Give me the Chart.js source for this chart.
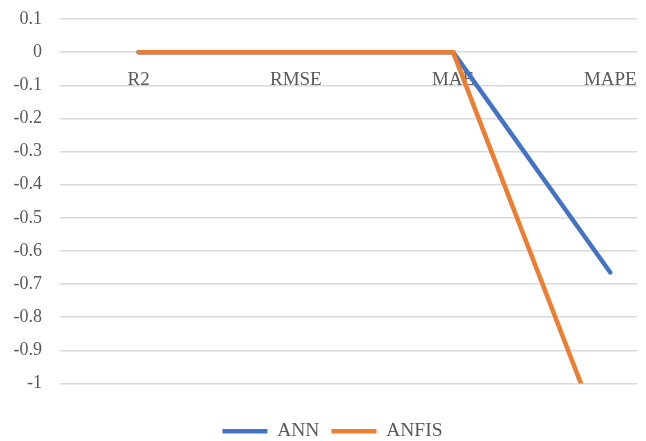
<!DOCTYPE html>
<html>
<head>
<meta charset="utf-8">
<script src="https://cdn.jsdelivr.net/npm/chart.js@4"></script>
<style>
  html, body { margin: 0; padding: 0; background: #fff; }
  #wrap { width: 646px; height: 441px; }
</style>
</head>
<body>
<div id="wrap"><canvas id="myChart" width="646" height="441"></canvas></div>
<script>
// metrics on the category axis
const categories = ['R2', 'RMSE', 'MAE', 'MAPE'];
// series values
const annValues = [0, 0, 0, -0.665];
const anfisValues = [0, 0, 0, -1.23];
// y tick range
const yMin = -1;
const yMax = 0.1;
const yStep = 0.1;

const toPoints = values => values.map((v, i) => ({ x: i, y: v }));
const serif = 'Liberation Serif';

// legend in the original sits a little right of centre
const legendShift = {
    id: 'legendShift',
    afterLayout(chart) {
        chart.legend.left += 28;
    }
};

const ctx = document.getElementById('myChart').getContext('2d');
new Chart(ctx, {
    type: 'line',
    data: {
        datasets: [{
            label: 'ANN',
            data: toPoints(annValues),
            borderColor: '#4472C4',
            backgroundColor: '#4472C4',
            borderWidth: 4.5,
            borderCapStyle: 'round',
            borderJoinStyle: 'round',
            pointRadius: 0,
            fill: false,
            clip: 0,
            order: 2
        }, {
            label: 'ANFIS',
            data: toPoints(anfisValues),
            borderColor: '#ED7D31',
            backgroundColor: '#ED7D31',
            borderWidth: 4.5,
            borderCapStyle: 'round',
            borderJoinStyle: 'round',
            pointRadius: 0,
            fill: false,
            clip: 0,
            order: 1
        }]
    },
    plugins: [legendShift],
    options: {
        responsive: false,
        animation: false,
        layout: { padding: { left: 0, right: 9, top: 19, bottom: -10 } },
        plugins: {
            tooltip: { enabled: false },
            legend: {
                position: 'bottom',
                // empty title only used to push the legend row down
                title: { display: true, text: '', font: { size: 10, lineHeight: 1 }, padding: { top: 16, bottom: 0 } },
                labels: {
                    sort: (a, b) => a.datasetIndex - b.datasetIndex,
                    usePointStyle: true,
                    pointStyle: 'line',
                    pointStyleWidth: 45,
                    padding: 12,
                    color: '#595959',
                    font: { family: serif, size: 19.5 }
                }
            }
        },
        scales: {
            x: {
                type: 'linear',
                position: { y: 0 },
                min: -0.5,
                max: 3.17,
                afterBuildTicks: axis => {
                    axis.ticks = categories.map((c, i) => ({ value: i }));
                },
                afterFit: axis => {
                    axis.paddingLeft = 0;
                    axis.paddingRight = 0;
                },
                ticks: {
                    callback: value => categories[value],
                    color: '#595959',
                    padding: 8,
                    maxRotation: 0,
                    font: { family: serif, size: 19 }
                },
                grid: { display: false },
                border: { display: false }
            },
            y: {
                min: yMin,
                max: yMax,
                afterFit: axis => {
                    axis.width = 60;
                    axis.paddingTop = 10;
                    axis.paddingBottom = 10;
                },
                ticks: {
                    stepSize: yStep,
                    callback: value => String(Math.round(value * 10) / 10),
                    color: '#595959',
                    padding: 18,
                    font: { family: serif, size: 18 }
                },
                grid: { color: '#d9d9d9', lineWidth: 1.5, drawTicks: false },
                border: { display: false }
            }
        }
    }
});
</script>
</body>
</html>
